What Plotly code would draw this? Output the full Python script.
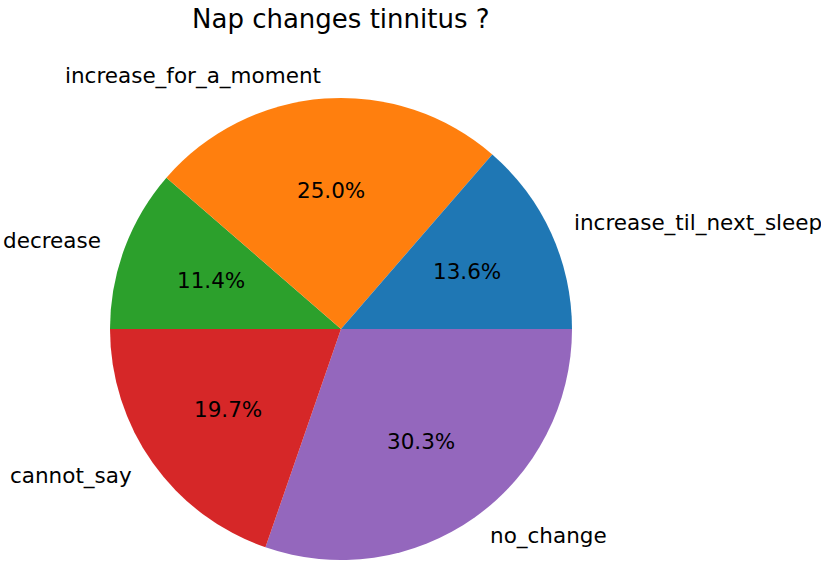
import math
import plotly.graph_objects as go

# Survey answers: does a nap change tinnitus?
labels = ["increase_til_next_sleep", "increase_for_a_moment", "decrease", "cannot_say", "no_change"]
counts = [18, 33, 15, 26, 40]
colors = ["#1f77b4", "#ff7f0e", "#2ca02c", "#d62728", "#9467bd"]

W, H = 821, 562
cx, cy, R = 341, 329, 231  # pie centre and radius in pixels

# Slices run counterclockwise from 3 o'clock; drawn as a clockwise pie of the
# reversed order so the first category starts right at the 3 o'clock edge.
fig = go.Figure(go.Pie(
    labels=labels[::-1],
    values=counts[::-1],
    sort=False,
    direction="clockwise",
    rotation=90,
    marker=dict(colors=colors[::-1], line=dict(width=0)),
    textinfo="none",
    hoverinfo="label+percent",
    showlegend=False,
    domain=dict(x=[(cx - R) / W, (cx + R) / W], y=[(H - cy - R) / H, (H - cy + R) / H]),
))

font_family = "DejaVu Sans"
total = sum(counts)
annotations = []
start = 0.0
for lab, val in zip(labels, counts):
    frac = val / total
    mid = (start + frac / 2) * 2 * math.pi
    start += frac
    c, s = math.cos(mid), math.sin(mid)
    # category label just outside the rim
    lx, ly = cx + 1.1 * R * c, cy - 1.1 * R * s
    annotations.append(dict(
        x=lx / W, y=1 - ly / H, xref="paper", yref="paper",
        text=lab, showarrow=False,
        xanchor="left" if c > 0 else "right", yanchor="middle",
        font=dict(family=font_family, size=21.5, color="#000000"),
    ))
    # percentage inside the slice
    px, py = cx + 0.6 * R * c, cy - 0.6 * R * s
    annotations.append(dict(
        x=px / W, y=1 - py / H, xref="paper", yref="paper",
        text=f"{100 * frac:.1f}%", showarrow=False,
        xanchor="center", yanchor="middle",
        font=dict(family=font_family, size=21.5, color="#000000"),
    ))

annotations.append(dict(
    x=cx / W, y=1 - 19 / H, xref="paper", yref="paper",
    text="Nap changes tinnitus ?", showarrow=False,
    xanchor="center", yanchor="middle",
    font=dict(family=font_family, size=26, color="#000000"),
))

fig.update_layout(
    width=W, height=H,
    margin=dict(l=0, r=0, t=0, b=0),
    paper_bgcolor="white",
    plot_bgcolor="white",
    annotations=annotations,
)

fig.write_html("out.html")
